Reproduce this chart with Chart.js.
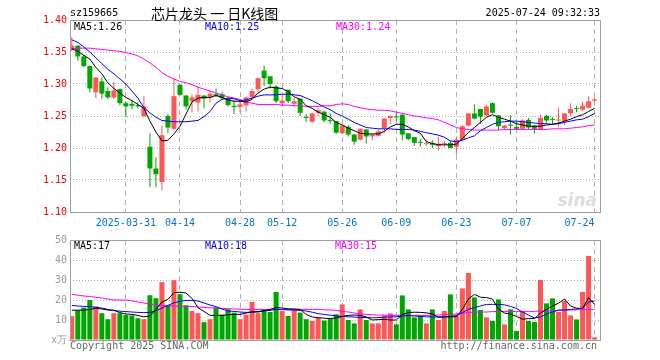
<!DOCTYPE html>
<html>
<head>
<meta charset="utf-8">
<script src="https://cdn.jsdelivr.net/npm/chart.js@4.4.1/dist/chart.umd.min.js"></script>
<style>
body { margin: 0; background: #fff; }
#wrap { position: relative; width: 660px; height: 360px; overflow: hidden; }
canvas { position: absolute; left: 0; top: 0; }
.t { position: absolute; font: 10px "DejaVu Sans Mono", monospace; line-height: 12px; white-space: pre; }
</style>
</head>
<body>
<div id="wrap">
	<canvas id="price" width="660" height="360"></canvas>
	<canvas id="vol" width="660" height="360"></canvas>
	<div class="t" style="left:70px;top:7px;color:#000">sz159665</div>
	<div class="t" style="left:151px;top:5px;font:14px 'Noto Sans CJK SC';line-height:17px;color:#000">芯片龙头 一 日K线图</div>
	<div class="t" style="right:60px;top:7px;color:#000">2025-07-24 09:32:33</div>
	<div class="t" style="left:74px;top:21px;color:#000">MA5:1.26</div>
	<div class="t" style="left:205px;top:21px;color:#0000ff">MA10:1.25</div>
	<div class="t" style="left:336px;top:21px;color:#ff00ff">MA30:1.24</div>
	<div class="t" style="right:63px;top:190px;color:#ddd;font:italic bold 17px 'DejaVu Sans';line-height:20px">sina</div>
	<div class="t" style="left:74px;top:240px;color:#000">MA5:17</div>
	<div class="t" style="left:205px;top:240px;color:#0000ff">MA10:18</div>
	<div class="t" style="left:335px;top:240px;color:#ff00ff">MA30:15</div>
	<div class="t" style="left:70px;top:340px;color:#666">Copyright 2025 SINA.COM</div>
	<div class="t" style="right:63px;top:340px;color:#666">http://finance.sina.com.cn</div>
</div>
<script>
// trading days shown
const dates = [
	'2025-03-18','2025-03-19','2025-03-20','2025-03-21','2025-03-24','2025-03-25','2025-03-26','2025-03-27','2025-03-28','2025-03-31',
	'2025-04-01','2025-04-02','2025-04-03','2025-04-07','2025-04-08','2025-04-09','2025-04-10','2025-04-11','2025-04-14','2025-04-15',
	'2025-04-16','2025-04-17','2025-04-18','2025-04-21','2025-04-22','2025-04-23','2025-04-24','2025-04-25','2025-04-28','2025-04-29',
	'2025-04-30','2025-05-06','2025-05-07','2025-05-08','2025-05-09','2025-05-12','2025-05-13','2025-05-14','2025-05-15','2025-05-16',
	'2025-05-19','2025-05-20','2025-05-21','2025-05-22','2025-05-23','2025-05-26','2025-05-27','2025-05-28','2025-05-29','2025-05-30',
	'2025-06-03','2025-06-04','2025-06-05','2025-06-06','2025-06-09','2025-06-10','2025-06-11','2025-06-12','2025-06-13','2025-06-16',
	'2025-06-17','2025-06-18','2025-06-19','2025-06-20','2025-06-23','2025-06-24','2025-06-25','2025-06-26','2025-06-27','2025-06-30',
	'2025-07-01','2025-07-02','2025-07-03','2025-07-04','2025-07-07','2025-07-08','2025-07-09','2025-07-10','2025-07-11','2025-07-14',
	'2025-07-15','2025-07-16','2025-07-17','2025-07-18','2025-07-21','2025-07-22','2025-07-23','2025-07-24'
];
// dates that get a label on the x axis
const tickDates = ['2025-03-31','2025-04-14','2025-04-28','2025-05-12','2025-05-26','2025-06-09','2025-06-23','2025-07-07','2025-07-24'];
const tickLabels = ['2025-03-31','04-14','04-28','05-12','05-26','06-09','06-23','07-07','07-24     '];

const open = [
	1.353,1.360,1.343,1.328,1.287,1.304,1.289,1.279,1.292,1.270,
	1.269,1.267,1.250,1.202,1.168,1.147,1.250,1.230,1.299,1.282,
	1.273,1.271,1.282,1.280,1.284,1.284,1.278,1.266,1.264,1.267,
	1.279,1.292,1.321,1.312,1.296,1.270,1.291,1.269,1.277,1.248,
	1.241,1.255,1.257,1.243,1.242,1.223,1.233,1.221,1.213,1.229,
	1.218,1.219,1.231,1.247,1.249,1.252,1.223,1.217,1.209,1.206,
	1.208,1.203,1.206,1.208,1.202,1.213,1.235,1.254,1.261,1.251,
	1.270,1.251,1.231,1.236,1.233,1.230,1.244,1.235,1.229,1.250,
	1.245,1.243,1.242,1.254,1.262,1.260,1.263,1.274
];
const high = [
	1.373,1.360,1.345,1.328,1.311,1.310,1.295,1.303,1.293,1.272,
	1.274,1.271,1.281,1.223,1.185,1.235,1.253,1.309,1.299,1.283,
	1.284,1.296,1.282,1.289,1.293,1.288,1.279,1.275,1.275,1.280,
	1.292,1.310,1.329,1.312,1.298,1.281,1.291,1.278,1.277,1.253,
	1.255,1.262,1.257,1.254,1.242,1.236,1.236,1.222,1.231,1.229,
	1.221,1.229,1.246,1.251,1.255,1.255,1.223,1.217,1.214,1.212,
	1.212,1.218,1.211,1.211,1.218,1.235,1.254,1.268,1.261,1.267,
	1.271,1.251,1.236,1.251,1.241,1.245,1.247,1.236,1.252,1.252,
	1.248,1.263,1.254,1.270,1.266,1.272,1.281,1.279
];
const low = [
	1.351,1.336,1.326,1.287,1.278,1.277,1.276,1.276,1.267,1.248,
	1.260,1.262,1.248,1.139,1.139,1.134,1.223,1.229,1.282,1.260,
	1.256,1.257,1.262,1.271,1.280,1.275,1.265,1.253,1.256,1.257,
	1.277,1.288,1.297,1.293,1.270,1.265,1.270,1.265,1.250,1.241,
	1.239,1.250,1.240,1.237,1.222,1.222,1.218,1.205,1.212,1.207,
	1.212,1.218,1.223,1.237,1.242,1.212,1.212,1.203,1.202,1.203,
	1.200,1.196,1.201,1.200,1.190,1.212,1.234,1.245,1.238,1.250,
	1.254,1.228,1.229,1.221,1.228,1.229,1.229,1.223,1.229,1.240,
	1.238,1.232,1.236,1.250,1.256,1.258,1.262,1.270
];
const close = [
	1.360,1.343,1.328,1.293,1.310,1.285,1.279,1.290,1.270,1.265,
	1.266,1.265,1.265,1.168,1.159,1.220,1.232,1.281,1.283,1.265,
	1.279,1.283,1.277,1.285,1.281,1.278,1.267,1.264,1.268,1.279,
	1.289,1.309,1.309,1.300,1.273,1.274,1.273,1.273,1.255,1.247,
	1.254,1.259,1.243,1.242,1.224,1.235,1.221,1.210,1.230,1.218,
	1.221,1.226,1.246,1.250,1.248,1.221,1.214,1.208,1.208,1.207,
	1.205,1.207,1.207,1.200,1.213,1.234,1.254,1.246,1.249,1.265,
	1.255,1.234,1.235,1.235,1.230,1.243,1.232,1.230,1.247,1.243,
	1.244,1.244,1.254,1.261,1.261,1.266,1.273,1.276
];
// moving averages as drawn on the chart
const ma5 = [
	1.355,1.351,1.345,1.339,1.326,1.316,1.302,1.293,1.286,1.279,
	1.274,1.268,1.262,1.242,1.225,1.211,1.212,1.222,1.234,1.253,
	1.272,1.278,1.279,1.279,1.282,1.279,1.275,1.273,1.273,1.272,
	1.276,1.286,1.292,1.295,1.294,1.293,1.288,1.280,1.276,1.266,
	1.262,1.256,1.252,1.248,1.240,1.236,1.231,1.227,1.223,1.222,
	1.222,1.222,1.226,1.233,1.237,1.237,1.233,1.227,1.223,1.210,
	1.207,1.205,1.205,1.205,1.206,1.215,1.224,1.232,1.240,1.248,
	1.252,1.248,1.245,1.242,1.238,1.236,1.234,1.234,1.234,1.236,
	1.237,1.239,1.242,1.245,1.249,1.252,1.257,1.262
];
const ma10 = [
	1.369,1.365,1.358,1.350,1.341,1.332,1.323,1.316,1.308,1.300,
	1.289,1.278,1.263,1.255,1.248,1.243,1.242,1.241,1.241,1.241,
	1.242,1.243,1.249,1.257,1.270,1.276,1.278,1.277,1.274,1.275,
	1.278,1.281,1.283,1.283,1.283,1.284,1.284,1.283,1.282,1.278,
	1.274,1.269,1.264,1.260,1.254,1.250,1.245,1.240,1.236,1.232,
	1.231,1.230,1.230,1.230,1.229,1.229,1.229,1.228,1.226,1.224,
	1.222,1.220,1.217,1.211,1.210,1.212,1.216,1.219,1.227,1.232,
	1.237,1.240,1.241,1.242,1.242,1.241,1.240,1.239,1.238,1.238,
	1.237,1.238,1.240,1.242,1.244,1.245,1.249,1.254
];
const ma30 = [
	1.355,1.356,1.356,1.356,1.355,1.354,1.353,1.352,1.351,1.349,
	1.347,1.344,1.339,1.333,1.326,1.318,1.312,1.308,1.304,1.302,
	1.299,1.295,1.292,1.289,1.286,1.283,1.280,1.278,1.276,1.272,
	1.270,1.268,1.268,1.268,1.268,1.267,1.267,1.266,1.266,1.265,
	1.265,1.265,1.266,1.266,1.268,1.269,1.268,1.265,1.263,1.261,
	1.260,1.259,1.259,1.258,1.256,1.254,1.252,1.250,1.249,1.247,
	1.246,1.244,1.240,1.236,1.232,1.230,1.229,1.228,1.228,1.228,
	1.228,1.228,1.229,1.229,1.229,1.229,1.229,1.229,1.229,1.229,
	1.230,1.230,1.230,1.231,1.232,1.233,1.235,1.236
];
// volume, unit 10k
const volume = [
	11.9,14.9,16.2,20.0,16.7,13.4,10.4,13.4,13.4,12.5,
	12.3,10.9,10.4,22.4,20.9,28.9,17.5,29.9,22.9,17.4,
	14.5,13.4,8.9,10.4,16.2,12.7,15.4,13.7,10.4,12.7,
	19.0,13.4,15.4,14.0,24.0,14.5,12.0,15.0,13.7,10.4,
	9.5,11.0,9.7,10.7,12.9,17.8,10.0,8.3,15.3,10.0,
	8.3,8.3,12.3,13.3,7.8,22.3,15.3,11.3,12.3,8.3,
	15.3,10.0,14.5,22.8,12.3,25.8,33.5,21.3,15.0,11.3,
	9.5,20.3,7.8,15.3,4.5,14.5,9.5,9.0,30.0,18.3,
	20.8,14.0,19.5,12.3,10.3,24.0,42.0,1.3
];
const volMa5 = [
	14.9,14.9,15.0,15.2,15.9,15.5,15.0,14.9,13.7,13.0,
	12.8,12.3,11.6,12.0,15.3,19.0,20.3,23.7,23.9,23.5,
	20.8,16.2,14.3,12.3,12.3,12.3,12.6,12.8,12.8,13.5,
	14.0,14.0,14.6,15.3,16.2,16.0,15.6,15.5,15.3,12.8,
	11.5,11.2,10.9,10.7,11.0,11.8,12.3,12.5,12.3,11.5,
	10.0,10.2,10.3,10.0,10.0,12.8,13.7,13.9,13.8,13.6,
	13.0,11.4,11.5,11.6,11.6,15.3,20.5,22.8,21.4,21.2,
	20.5,15.5,13.5,13.0,11.8,10.4,10.7,10.7,13.5,15.3,
	17.0,18.4,20.5,17.0,15.9,15.7,21.2,17.8
];
const volMa10 = [
	17.3,17.0,16.8,16.7,16.4,16.0,15.3,14.7,14.4,14.2,
	14.0,13.8,13.7,13.8,14.6,16.0,17.3,18.6,19.3,19.8,
	19.8,19.5,18.5,17.5,16.7,15.5,14.5,14.3,14.0,13.8,
	14.0,14.3,14.6,14.8,15.3,15.2,15.0,15.0,14.8,14.5,
	13.9,13.2,12.8,12.4,12.0,11.8,11.6,11.5,11.3,11.2,
	11.1,11.2,11.4,11.5,11.6,12.0,12.2,12.0,11.8,11.6,
	11.5,11.5,11.6,11.8,12.2,13.7,15.3,16.2,17.0,17.8,
	17.8,17.8,17.6,16.8,15.8,14.0,12.5,11.0,11.5,13.0,
	14.0,15.0,15.0,15.3,15.5,16.0,19.0,19.5
];
const volMa30 = [
	22.8,22.4,22.0,21.7,21.4,21.0,20.5,20.0,20.0,20.0,
	19.6,19.0,18.5,18.0,17.3,17.2,17.1,17.0,16.9,16.8,
	16.7,16.5,16.3,16.1,16.0,15.8,15.7,15.5,15.4,15.3,
	15.3,15.3,15.3,15.3,15.3,15.3,15.3,15.3,15.3,15.3,
	15.3,15.3,15.1,15.0,14.8,14.3,14.0,13.5,13.0,12.8,
	12.6,12.5,12.4,12.3,12.3,12.3,12.3,12.3,12.3,12.3,
	12.3,12.5,12.7,12.8,13.0,13.4,13.7,14.0,14.0,14.0,
	14.2,14.3,14.3,14.3,14.2,14.2,14.2,14.3,14.5,14.5,
	14.6,14.8,14.9,15.0,15.1,15.2,15.3,15.3
];

const UP = '#ff5656';
const DOWN = '#00a600';
const MONO = 'DejaVu Sans Mono';

Chart.defaults.animation = false;
Chart.defaults.font.family = MONO;
Chart.defaults.font.size = 10;

const candleColors = open.map((o, i) => close[i] >= o ? UP : DOWN);
const pts = arr => arr.map((v, i) => ({x: i, y: v}));

// grey frame round the plot area
const frame = {
	id: 'frame',
	afterDraw(chart) {
		const a = chart.chartArea, ctx = chart.ctx;
		ctx.save();
		ctx.strokeStyle = '#a0a0a0';
		ctx.lineWidth = 1;
		ctx.strokeRect(Math.round(a.left) + 0.5, Math.round(a.top) + 0.5, Math.round(a.right - a.left), Math.round(a.bottom - a.top));
		ctx.restore();
	}
};

function xScale(showLabels) {
	return {
		type: 'linear',
		offset: false,
		min: -0.3,
		max: 87.9,
		afterBuildTicks: s => { s.ticks = tickDates.map(d => ({value: dates.indexOf(d)})); },
		afterFit: s => { s.height = showLabels ? 28 : 0; },
		grid: {color: '#b0b0b0', drawTicks: false, offset: false},
		border: {display: false, dash: [5, 4]},
		ticks: {
			display: showLabels,
			autoSkip: false,
			maxRotation: 0,
			padding: 5,
			color: '#0078c8',
			callback: v => tickLabels[tickDates.indexOf(dates[v])]
		}
	};
}

function lineSet(data, color) {
	return {type: 'line', data: pts(data), borderColor: color, borderWidth: 1, pointRadius: 0, tension: 0, order: 0};
}

//price chart with candles drawn as floating bars
new Chart(document.getElementById('price'), {
	type: 'bar',
	data: {
		datasets: [
			lineSet(ma5, '#000000'),
			lineSet(ma10, '#0000ff'),
			lineSet(ma30, '#ff00ff'),
			{
				data: open.map((o, i) => ({x: i, y: [o, close[i]]})),
				backgroundColor: candleColors, barThickness: 5, grouped: false,
				minBarLength: 1, inflateAmount: 0, borderWidth: 0, order: 1
			},
			{
				data: low.map((l, i) => ({x: i, y: [l, high[i]]})),
				backgroundColor: candleColors, barThickness: 1, grouped: false,
				inflateAmount: 0, borderWidth: 0, order: 2
			}
		]
	},
	options: {
		responsive: false,
		devicePixelRatio: 1,
		layout: {padding: {top: 20, right: 60, bottom: 120, left: 0}},
		plugins: {legend: {display: false}, tooltip: {enabled: false}},
		scales: {
			x: xScale(true),
			y: {
				min: 1.10,
				max: 1.40,
				afterFit: s => { s.width = 70; },
				grid: {color: '#b0b0b0', drawTicks: false},
				border: {display: false, dash: [1, 2]},
				ticks: {stepSize: 0.05, padding: 3, color: '#ff0000', callback: v => v.toFixed(2)}
			}
		}
	},
	plugins: [frame]
});

//volume chart
new Chart(document.getElementById('vol'), {
	type: 'bar',
	data: {
		datasets: [
			lineSet(volMa5, '#000000'),
			lineSet(volMa10, '#0000ff'),
			lineSet(volMa30, '#ff00ff'),
			{
				data: pts(volume),
				backgroundColor: candleColors, barThickness: 5, grouped: false,
				inflateAmount: 0, borderWidth: 0, order: 1
			}
		]
	},
	options: {
		responsive: false,
		devicePixelRatio: 1,
		layout: {padding: {top: 240, right: 60, bottom: 20, left: 0}},
		plugins: {legend: {display: false}, tooltip: {enabled: false}},
		scales: {
			x: xScale(false),
			y: {
				min: 0,
				max: 50,
				afterFit: s => { s.width = 70; },
				grid: {color: '#b0b0b0', drawTicks: false},
				border: {display: false, dash: [1, 2]},
				ticks: {stepSize: 10, padding: 3, color: '#999999', callback: v => v === 0 ? 'x万' : v}
			}
		}
	},
	plugins: [frame]
});
</script>
</body>
</html>
